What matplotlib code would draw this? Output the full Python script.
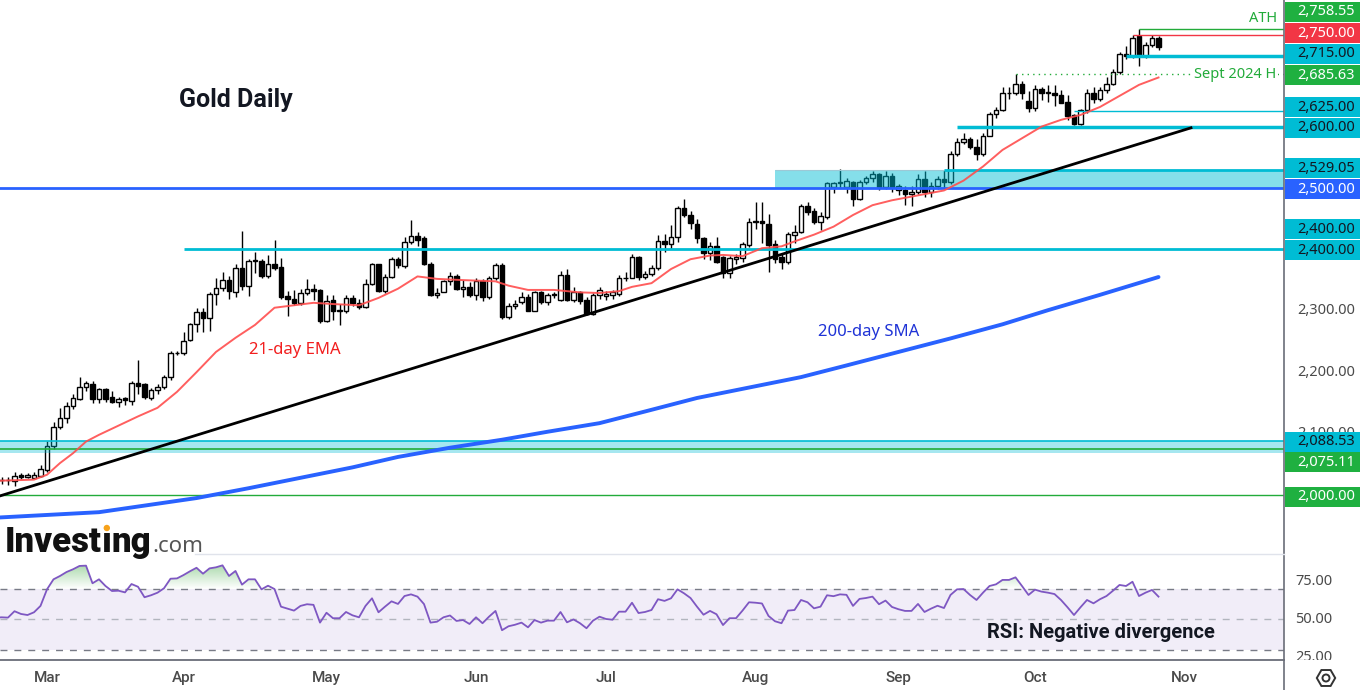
import numpy as np
import pandas as pd
import matplotlib
matplotlib.use("Agg")
import matplotlib.pyplot as plt
from matplotlib.patches import Rectangle, RegularPolygon, Circle
from matplotlib.lines import Line2D
from matplotlib.path import Path

plt.rcParams['font.family'] = ['Noto Sans', 'DejaVu Sans']
BOLD_FONT = ['Roboto', 'DejaVu Sans']

# daily gold candles, business days 20 Feb - 28 Oct 2024
dates = pd.bdate_range('2024-02-20', '2024-10-28')

opens = [2018, 2024, 2025, 2023, 2033, 2030, 2028, 2031, 2041, 2079,
         2111, 2125, 2145, 2157, 2176, 2181, 2156, 2172, 2160, 2152,
         2158, 2153, 2183, 2180, 2158, 2171, 2176, 2192, 2231, 2232,
         2252, 2278, 2298, 2288, 2327, 2337, 2350, 2331, 2369, 2341,
         2381, 2381, 2357, 2376, 2371, 2324, 2319, 2312, 2329, 2335,
         2334, 2283, 2317, 2300, 2299, 2321, 2313, 2306, 2344, 2376,
         2332, 2355, 2384, 2373, 2412, 2422, 2418, 2376, 2326, 2331,
         2348, 2357, 2335, 2339, 2326, 2349, 2323, 2353, 2375, 2290,
         2308, 2314, 2322, 2300, 2330, 2315, 2326, 2318, 2358, 2318,
         2331, 2318, 2295, 2326, 2324, 2326, 2327, 2353, 2354, 2388,
         2355, 2360, 2369, 2414, 2408, 2420, 2467, 2456, 2442, 2418,
         2394, 2406, 2388, 2361, 2384, 2386, 2407, 2445, 2446, 2441,
         2408, 2388, 2380, 2423, 2429, 2471, 2462, 2445, 2453, 2501,
         2508, 2501, 2510, 2482, 2510, 2516, 2523, 2502, 2520, 2497,
         2497, 2490, 2493, 2514, 2494, 2503, 2514, 2510, 2556, 2575,
         2580, 2566, 2556, 2584, 2620, 2627, 2654, 2654, 2669, 2641,
         2631, 2661, 2657, 2654, 2651, 2640, 2619, 2605, 2627, 2654,
         2645, 2659, 2670, 2689, 2719, 2715, 2747, 2715, 2733, 2745]

highs = [2030, 2030, 2030, 2038, 2036, 2036, 2037, 2049, 2088, 2119,
         2142, 2152, 2164, 2192, 2185, 2185, 2175, 2175, 2170, 2160,
         2160, 2186, 2220, 2182, 2175, 2180, 2196, 2235, 2234, 2266,
         2280, 2304, 2304, 2330, 2353, 2363, 2356, 2376, 2430, 2385,
         2395, 2384, 2391, 2415, 2386, 2333, 2334, 2335, 2352, 2343,
         2336, 2326, 2326, 2311, 2326, 2326, 2320, 2351, 2378, 2377,
         2360, 2387, 2387, 2420, 2448, 2428, 2422, 2379, 2337, 2350,
         2364, 2360, 2350, 2347, 2354, 2352, 2356, 2378, 2378, 2313,
         2318, 2331, 2327, 2332, 2333, 2329, 2330, 2365, 2368, 2338,
         2333, 2322, 2329, 2339, 2332, 2334, 2358, 2363, 2392, 2390,
         2365, 2375, 2424, 2425, 2440, 2470, 2482, 2462, 2450, 2420,
         2412, 2420, 2390, 2390, 2393, 2412, 2451, 2477, 2477, 2457,
         2415, 2392, 2429, 2440, 2474, 2477, 2467, 2461, 2510, 2510,
         2531, 2516, 2512, 2513, 2520, 2528, 2525, 2528, 2524, 2507,
         2503, 2503, 2523, 2528, 2509, 2520, 2529, 2560, 2581, 2589,
         2583, 2580, 2590, 2623, 2632, 2664, 2664, 2685.63, 2674, 2658,
         2667, 2664, 2667, 2667, 2659, 2652, 2620, 2629, 2661, 2665,
         2665, 2681, 2694, 2722, 2732, 2750, 2758.55, 2738, 2750, 2747]

lows = [2013, 2018, 2016, 2015, 2026, 2028, 2027, 2030, 2038, 2075,
        2108, 2118, 2140, 2155, 2169, 2150, 2150, 2151, 2150, 2144,
        2146, 2146, 2165, 2157, 2155, 2165, 2172, 2188, 2228, 2228,
        2250, 2266, 2266, 2267, 2310, 2333, 2319, 2323, 2334, 2324,
        2362, 2353, 2353, 2366, 2320, 2291, 2309, 2309, 2326, 2318,
        2280, 2281, 2285, 2277, 2297, 2308, 2303, 2305, 2342, 2330,
        2329, 2353, 2370, 2370, 2408, 2406, 2374, 2324, 2321, 2330,
        2342, 2334, 2323, 2322, 2318, 2316, 2320, 2350, 2287, 2287,
        2303, 2311, 2299, 2299, 2311, 2310, 2321, 2316, 2316, 2315,
        2311, 2293, 2293, 2320, 2318, 2319, 2324, 2348, 2353, 2350,
        2352, 2357, 2366, 2396, 2400, 2412, 2453, 2433, 2410, 2385,
        2382, 2378, 2353, 2353, 2376, 2380, 2404, 2433, 2410, 2364,
        2378, 2368, 2376, 2411, 2426, 2456, 2441, 2431, 2449, 2492,
        2500, 2492, 2470, 2480, 2507, 2510, 2497, 2499, 2493, 2488,
        2472, 2471, 2490, 2486, 2486, 2499, 2500, 2507, 2552, 2571,
        2564, 2546, 2552, 2584, 2614, 2625, 2645, 2652, 2645, 2624,
        2625, 2643, 2640, 2633, 2638, 2610, 2603, 2603, 2622, 2638,
        2642, 2655, 2667, 2685, 2710, 2712, 2698, 2712, 2729, 2725]

closes = [2024, 2025, 2024, 2031, 2030, 2032, 2033, 2042, 2080, 2111,
          2125, 2145, 2158, 2176, 2182, 2156, 2172, 2157, 2152, 2157,
          2154, 2183, 2178, 2160, 2171, 2176, 2192, 2231, 2232, 2250,
          2278, 2298, 2288, 2327, 2337, 2350, 2332, 2369, 2341, 2381,
          2382, 2357, 2376, 2370, 2323, 2319, 2312, 2329, 2335, 2333,
          2283, 2316, 2300, 2302, 2321, 2313, 2307, 2344, 2376, 2332,
          2355, 2384, 2374, 2412, 2422, 2416, 2376, 2326, 2329, 2348,
          2357, 2335, 2339, 2326, 2349, 2323, 2353, 2375, 2290, 2308,
          2311, 2322, 2300, 2330, 2315, 2326, 2327, 2358, 2318, 2331,
          2316, 2295, 2326, 2334, 2328, 2331, 2353, 2354, 2388, 2355,
          2360, 2369, 2413, 2409, 2420, 2467, 2456, 2443, 2418, 2394,
          2406, 2380, 2361, 2386, 2387, 2408, 2445, 2446, 2443, 2407,
          2385, 2380, 2425, 2429, 2470, 2461, 2445, 2454, 2508, 2508,
          2510, 2511, 2482, 2510, 2516, 2523, 2501, 2520, 2501, 2504,
          2490, 2493, 2514, 2494, 2503, 2514, 2510, 2556, 2575, 2580,
          2566, 2556, 2584, 2620, 2627, 2654, 2655, 2669, 2655, 2631,
          2661, 2655, 2655, 2651, 2639, 2618, 2605, 2627, 2654, 2645,
          2659, 2670, 2689, 2719, 2715, 2745, 2715, 2733, 2745, 2729]

rsi = [51.0, 51.3, 51.1, 55.3, 53.5, 52.8, 54.6, 58.8, 69.7, 76.3,
       78.5, 81.1, 82.9, 85.1, 85.3, 73.7, 76.3, 71.9, 68.6, 68.8,
       67.7, 73.2, 71.4, 64.5, 65.8, 67.5, 70.4, 76.7, 76.9, 79.1,
       81.6, 83.9, 80.0, 83.5, 84.2, 85.5, 78.5, 81.8, 72.8, 76.3,
       76.3, 69.7, 72.1, 69.9, 58.3, 57.0, 55.7, 58.8, 59.9, 59.5,
       47.8, 54.3, 50.7, 50.7, 54.8, 52.6, 51.3, 58.8, 63.8, 54.6,
       58.3, 61.8, 60.1, 65.3, 66.4, 64.9, 60.0, 47.8, 48.4, 51.3,
       52.5, 48.9, 49.5, 46.9, 51.3, 47.4, 51.7, 55.5, 42.8, 45.4,
       46.4, 47.8, 44.7, 49.5, 47.8, 49.1, 49.1, 54.8, 48.0, 49.9,
       47.4, 44.1, 49.1, 51.7, 50.2, 49.7, 55.0, 55.0, 60.9, 54.1,
       54.8, 56.1, 63.2, 62.1, 63.8, 69.7, 67.1, 64.0, 58.3, 53.0,
       55.5, 53.3, 46.2, 50.7, 50.7, 55.7, 61.2, 60.9, 60.4, 52.2,
       48.7, 47.4, 55.7, 56.1, 62.7, 61.2, 57.2, 58.3, 65.8, 65.2,
       66.4, 66.1, 58.8, 63.4, 64.0, 64.9, 59.9, 62.3, 58.1, 56.6,
       55.5, 55.5, 60.1, 54.8, 57.0, 58.9, 57.4, 66.0, 69.7, 69.9,
       66.0, 62.7, 67.5, 71.9, 73.0, 75.9, 75.9, 77.6, 71.9, 66.0,
       69.5, 68.2, 67.5, 66.6, 62.7, 57.9, 52.8, 57.9, 62.7, 60.5,
       63.2, 65.3, 68.8, 72.6, 71.9, 74.7, 65.3, 67.5, 69.3, 64.9]

# 21-day EMA and 200-day SMA (bar index, value)
ema_idx = [0, 6, 8, 10, 12, 14, 16, 20, 22, 25, 28, 31, 34, 37, 40, 43, 46, 49, 52, 56,
           59, 62, 65, 68, 72, 77, 79, 82, 86, 90, 93, 96, 98, 101, 104, 107, 110, 112, 115, 118,
           121, 123, 126, 129, 132, 135, 138, 141, 144, 146, 149, 152, 155, 158, 161, 164, 167, 170,
           173, 176, 179]
ema_val = [2023, 2025, 2033, 2052, 2068, 2087, 2098, 2118, 2128, 2142, 2168, 2200, 2233, 2256, 2277,
           2305, 2309, 2313, 2311, 2309, 2321, 2336, 2356, 2352, 2350, 2348, 2341, 2334, 2334, 2330,
           2329, 2332, 2339, 2345, 2368, 2384, 2390, 2391, 2389, 2402, 2405, 2413, 2424, 2437, 2456,
           2472, 2480, 2486, 2492, 2496, 2512, 2535, 2562, 2581, 2600, 2611, 2619, 2632, 2650, 2668,
           2680]
sma_idx = [0, 16, 31, 39, 47, 55, 62, 70, 78, 85, 93, 100, 108, 116, 124, 131, 139, 147, 155, 162, 170, 179]
sma_val = [1963, 1972, 1995, 2011, 2028, 2045, 2062, 2077, 2090, 2103, 2117, 2136, 2158, 2175, 2192,
           2211, 2233, 2255, 2278, 2301, 2326, 2355]

trend_x = [0, 184]
trend_y = [1996, 2598]

CYAN = '#00bcd4'
GREEN = '#1fb040'
RED = '#f23645'
BLUE = '#2962ff'

# right-hand price labels
label_prices = [2758.55, 2750.00, 2715.00, 2685.63, 2625.00, 2600.00, 2529.05,
                2500.00, 2400.00, 2400.00, 2088.53, 2075.11, 2000.00]
label_colors = [GREEN, RED, CYAN, GREEN, CYAN, CYAN, CYAN,
                BLUE, CYAN, CYAN, CYAN, GREEN, GREEN]
label_shift = [-17.5, -1.5, -2, 1, -4, 1, -2, 1, -20, 0.7, 1, 13.6, 1.7]

W, H = 1362, 690
YMIN, YMAX = 1903.9, 2806.2
XMIN, XMAX = 5 / 6.5, 1289 / 6.5
RMIN, RMAX = 23.2, 92.96


def fx(px):
    return px / W


def fy(py):
    return 1 - py / H


def price_px(p):
    return 554 * (YMAX - p) / (YMAX - YMIN)


fig = plt.figure(figsize=(13.62, 6.9), dpi=100)
ax = fig.add_axes([0, fy(554), fx(1284), 554 / H])
axr = fig.add_axes([0, fy(660), fx(1284), 106 / H])
for a in (ax, axr):
    a.axis('off')

x = np.arange(len(dates))
o = np.array(opens, float)
h = np.array(highs, float)
l = np.array(lows, float)
c = np.array(closes, float)
up = c >= o

# candles
ax.vlines(x, l, h, color='black', lw=1, zorder=2)
bottom = np.minimum(o, c)
height = np.maximum(np.abs(c - o), 0.9)
ax.bar(x[up], height[up], bottom=bottom[up], width=0.66, facecolor='white',
       edgecolor='black', linewidth=1, zorder=3)
ax.bar(x[~up], height[~up], bottom=bottom[~up], width=0.66, facecolor='black',
       edgecolor='black', linewidth=1, zorder=3)

# zones
ax.add_patch(Rectangle((120, 2500), 100, 29.05, facecolor=CYAN, alpha=0.48,
                       edgecolor='none', zorder=4))
ax.hlines(2529.05, 120, XMAX, color='#9cc9d6', lw=0.8, zorder=4)
ax.hlines(2529.05, 146, XMAX, color=CYAN, lw=2, zorder=5)
ax.add_patch(Rectangle((-5, 2069), 220, 19.53, facecolor=CYAN, alpha=0.35,
                       edgecolor='none', zorder=4))
ax.hlines(2088.53, -5, XMAX, color=CYAN, lw=1.2, zorder=5)
ax.hlines(2075.11, -5, XMAX, color='#22ab3a', lw=1.2, zorder=5)

# levels
ax.hlines(2500, -5, XMAX, color=BLUE, lw=2, zorder=5)
ax.hlines(2400, 29, XMAX, color=CYAN, lw=2, zorder=5)
ax.hlines(2600, 148, XMAX, color=CYAN, lw=2.5, zorder=5)
ax.hlines(2625, 166, XMAX, color=CYAN, lw=1, zorder=5)
ax.hlines(2685.63, 157, XMAX, color='#22ab3a', lw=1, linestyles=(0, (1, 3)), zorder=5)
ax.hlines(2715, 174, XMAX, color=CYAN, lw=2.5, zorder=5)
ax.hlines(2750, 175, XMAX, color=RED, lw=1, zorder=5)
ax.hlines(2758.55, 176, XMAX, color='#22ab3a', lw=1, zorder=5)
ax.hlines(2000, -5, XMAX, color='#22ab3a', lw=1, zorder=5)

ax.plot(trend_x, trend_y, color='black', lw=2, zorder=6)
ax.plot(sma_idx, sma_val, color=BLUE, lw=2.8, zorder=6, solid_capstyle='round')
ax.plot(ema_idx, ema_val, color='#ff4d4d', lw=1.4, alpha=0.9, zorder=6)

ax.set_xlim(XMIN, XMAX)
ax.set_ylim(YMIN, YMAX)

# RSI panel
r = np.array(rsi)
axr.axhspan(30, 70, color='#7e57c2', alpha=0.1, lw=0, zorder=0)
axr.axhline(70, color='#787b86', ls=(0, (5, 5)), lw=1, zorder=1)
axr.axhline(30, color='#787b86', ls=(0, (5, 5)), lw=1, zorder=1)
axr.axhline(50, color='#b2b5be', ls=(0, (5, 5)), lw=1, zorder=1)
fb = axr.fill_between(x, 70, r, where=r >= 70, interpolate=True,
                      facecolor='none', edgecolor='none')
paths = fb.get_paths()
if paths:
    clip = Path.make_compound_path(*paths)
    grad = np.zeros((100, 2, 4))
    grad[..., 0] = 0.30
    grad[..., 1] = 0.69
    grad[..., 2] = 0.31
    grad[..., 3] = np.linspace(0.0, 0.5, 100)[:, None]
    im = axr.imshow(grad, extent=(XMIN, XMAX, 70, 87), origin='lower',
                    aspect='auto', zorder=1, interpolation='bilinear')
    im.set_clip_path(clip, transform=axr.transData)
axr.plot(x, r, color='#7e57c2', lw=1.3, zorder=3)
axr.set_xlim(XMIN, XMAX)
axr.set_ylim(RMIN, RMAX)

# month labels
all_days = pd.bdate_range('2024-02-20', '2024-11-01')
for k in range(1, len(all_days)):
    if all_days[k].month != all_days[k - 1].month:
        axr.text(k, (660 - 678) / 106, all_days[k].strftime('%b'),
                 transform=axr.get_xaxis_transform(), ha='center', va='center',
                 fontsize=11, fontweight='medium', family=BOLD_FONT,
                 color='#4a4a4a', clip_on=False)

# frame lines
fig.add_artist(Line2D([fx(1284), fx(1284)], [0, 1], color='#6a6d78', lw=1.2))
fig.add_artist(Line2D([0, fx(1284)], [fy(660), fy(660)], color='#6a6d78', lw=1.3))
fig.add_artist(Line2D([fx(195), fx(1284)], [fy(554), fy(554)], color='#e0e3eb', lw=1))

# right axis ticks (2,100 is mostly hidden behind the 2,088.53 box)
tick_clip = Rectangle((fx(1285), fy(432)), 77 / W, 432 / H, transform=fig.transFigure)
for p in [2300, 2200, 2100]:
    t = fig.text(fx(1297), fy(price_px(p)), f'{p:,.2f}', ha='left', va='center',
                 fontsize=10.5, color='#4a4a4a', zorder=2)
    t.set_clip_path(tick_clip)

for p, col, s in zip(label_prices, label_colors, label_shift):
    yc = price_px(p) + s
    fig.add_artist(Rectangle((fx(1285), fy(yc + 10)), 75 / W, 20 / H,
                             transform=fig.transFigure, facecolor=col,
                             edgecolor='none', zorder=3))
    tc = '#131722' if col == CYAN else 'white'
    fig.text(fx(1297), fy(yc), f'{p:,.2f}', ha='left', va='center',
             fontsize=10.5, color=tc, zorder=4)

clip_rect = Rectangle((fx(1285), fy(660)), 77 / W, 106 / H, transform=fig.transFigure)
for v in [75, 50, 25]:
    yp = 619.3 - (v - 50) * 1.52
    t = fig.text(fx(1295), fy(yp), f'{v:.2f}', ha='left', va='center',
                 fontsize=10.5, color='#4a4a4a')
    t.set_clip_path(clip_rect)

# settings icon
fig.add_artist(RegularPolygon((13.26, 0.12), 6, radius=0.092, orientation=np.pi / 6,
                              transform=fig.dpi_scale_trans, facecolor='none',
                              edgecolor='#333333', lw=1.4))
fig.add_artist(Circle((13.26, 0.12), 0.035, transform=fig.dpi_scale_trans,
                      facecolor='none', edgecolor='#333333', lw=1.4))

# annotations
fig.text(fx(236), fy(100), 'Gold Daily', ha='center', va='center', fontsize=18,
         fontweight='bold', family=BOLD_FONT, color='#131722')
fig.text(fx(295), fy(350), '21-day EMA', ha='center', va='center', fontsize=12,
         color='#f21f1f')
fig.text(fx(869), fy(332), '200-day SMA', ha='center', va='center', fontsize=12,
         color='#1f33d6')
fig.text(fx(1101), fy(633), 'RSI: Negative divergence', ha='center', va='center',
         fontsize=14.5, fontweight='bold', family=BOLD_FONT, color='#131722')
fig.text(fx(1263), fy(18), 'ATH', ha='center', va='center', fontsize=10.5, color='#22ab3a')
fig.text(fx(1235), fy(74), 'Sept 2024 H', ha='center', va='center', fontsize=10.5,
         color='#22ab3a', bbox=dict(facecolor='white', edgecolor='none', pad=1.5))

# logo
rend = fig.canvas.get_renderer()
base = fy(552)
logo_kw = dict(fontsize=25, fontweight='black', family=BOLD_FONT, color='#111111', va='baseline')
t1 = fig.text(fx(5), base, 'Invest', **logo_kw)
b1 = t1.get_window_extent(rend)
t2 = fig.text(b1.x1 / W, base, '\u0131', **logo_kw)
b2 = t2.get_window_extent(rend)
t3 = fig.text(b2.x1 / W, base, 'ng', **logo_kw)
b3 = t3.get_window_extent(rend)
fig.text(b3.x1 / W + 1 / W, base, '.com', fontsize=16, color='#555555', va='baseline')
fig.add_artist(Circle(((b2.x0 + b2.x1) / 200, (H - 528) / 100), 0.032,
                      transform=fig.dpi_scale_trans, facecolor='#f7a21b', edgecolor='none'))

fig.savefig('out.png', dpi=100)
